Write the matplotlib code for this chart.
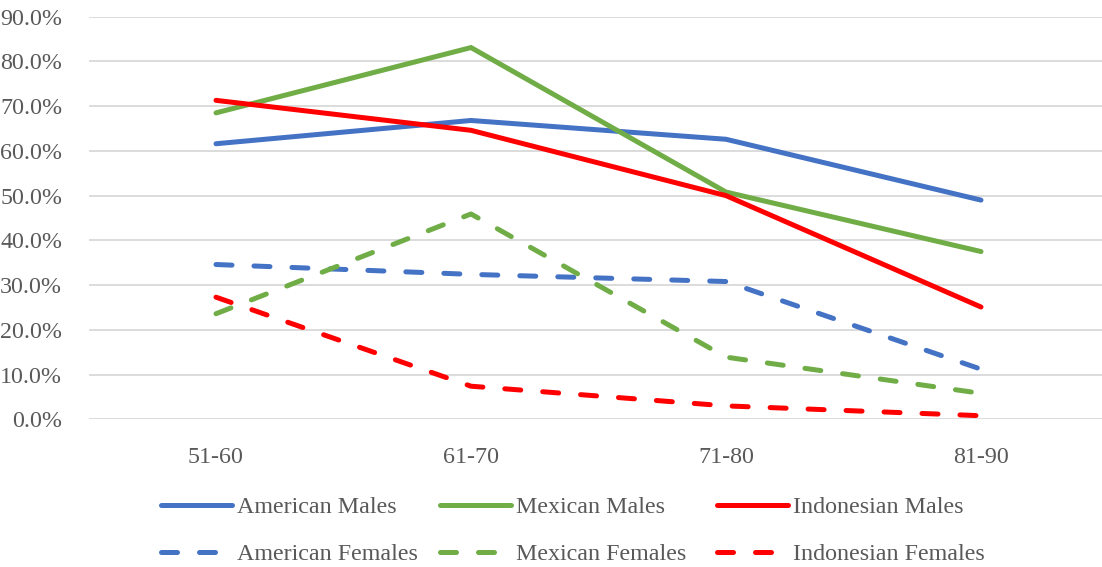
import matplotlib
matplotlib.use("Agg")
import matplotlib.pyplot as plt
from matplotlib.lines import Line2D

# Age groups and the share of each group (fractions)
age_groups = ["51-60", "61-70", "71-80", "81-90"]

american_males = [0.616, 0.668, 0.626, 0.490]
mexican_males = [0.685, 0.831, 0.508, 0.375]
indonesian_males = [0.713, 0.646, 0.500, 0.251]
american_females = [0.346, 0.324, 0.308, 0.112]
mexican_females = [0.236, 0.459, 0.139, 0.058]
indonesian_females = [0.273, 0.074, 0.030, 0.008]

y_ticks = [0.0, 0.1, 0.2, 0.3, 0.4, 0.5, 0.6, 0.7, 0.8, 0.9]

BLUE = "#4472C4"
GREEN = "#70AD47"
RED = "#FF0000"
TEXT = "#595959"
GRID = "#D9D9D9"
FONT = "Liberation Serif"
FS = 17.3

W, H = 1102, 567
fig = plt.figure(figsize=(W / 100, H / 100), dpi=100)

left, right = 88.5, 1108.5
top, bottom = 16.7, 419.3
ax = fig.add_axes([left / W, 1 - bottom / H, (right - left) / W, (bottom - top) / H])

x = list(range(len(age_groups)))
lw = 3.6
dash = (3.2, 4.4)

series = [
    ("American Males", american_males, BLUE, "-"),
    ("Mexican Males", mexican_males, GREEN, "-"),
    ("Indonesian Males", indonesian_males, RED, "-"),
    ("American Females", american_females, BLUE, "--"),
    ("Mexican Females", mexican_females, GREEN, "--"),
    ("Indonesian Females", indonesian_females, RED, "--"),
]

for name, vals, col, ls in series:
    line, = ax.plot(x, vals, color=col, lw=lw, solid_capstyle="round",
                    dash_capstyle="round", solid_joinstyle="miter", zorder=3)
    if ls == "--":
        line.set_dashes(dash)

ax.set_xlim(-0.5, len(age_groups) - 0.5)
ax.set_ylim(0, 0.9)
ax.set_yticks(y_ticks)
ax.set_yticklabels([f"{v * 100:.1f}%" for v in y_ticks])
ax.set_xticks(x)
ax.set_xticklabels(age_groups)
ax.grid(axis="y", color=GRID, lw=1.3, zorder=0)
ax.set_axisbelow(True)
for s in ax.spines.values():
    s.set_visible(False)
ax.tick_params(axis="both", length=0, labelcolor=TEXT, labelsize=FS)
ax.tick_params(axis="y", pad=19)
ax.tick_params(axis="x", pad=20)
for lab in ax.get_xticklabels() + ax.get_yticklabels():
    lab.set_fontfamily(FONT)

# Legend laid out as two rows of three entries below the axes
col_handle = [(161, 232), (440, 511), (717, 788)]
row_y = [505, 552]
for i, (name, vals, col, ls) in enumerate(series):
    c, r = i % 3, i // 3
    x0, x1 = col_handle[c]
    yy = 1 - row_y[r] / H
    ln = Line2D([x0 / W, x1 / W], [yy, yy], transform=fig.transFigure,
                color=col, lw=lw, solid_capstyle="round", dash_capstyle="round")
    if ls == "--":
        ln.set_dashes((3.2, 4.4))
    fig.add_artist(ln)
    fig.text((x1 + 5) / W, yy, name, fontsize=FS, family=FONT, color=TEXT,
             ha="left", va="center_baseline")

fig.savefig("out.png", dpi=100)
